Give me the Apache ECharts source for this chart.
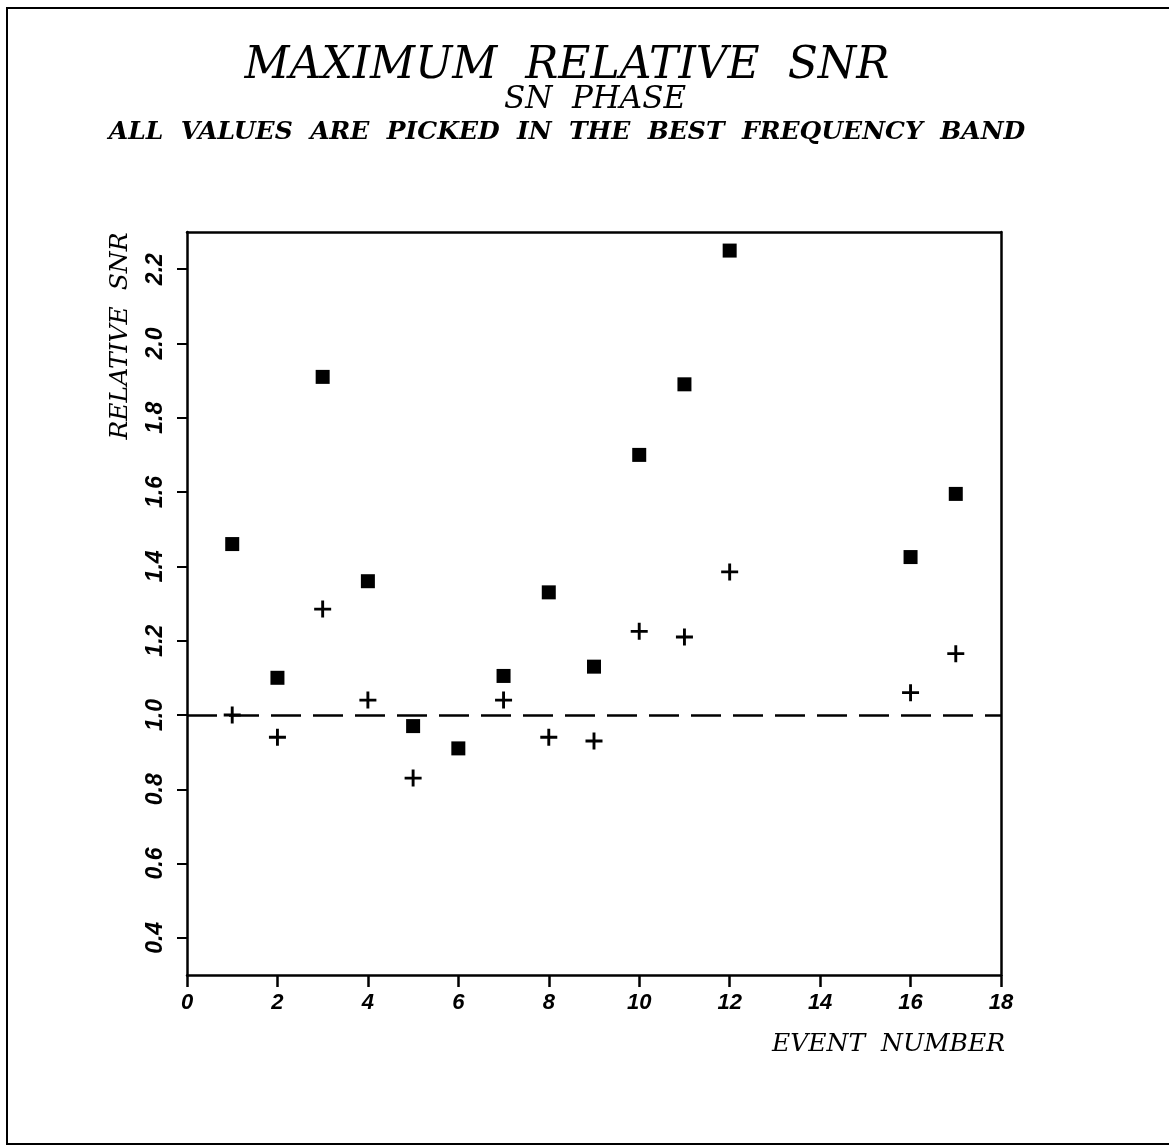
<!DOCTYPE html>
<html>
<head>
<meta charset="utf-8">
<script src="https://cdn.jsdelivr.net/npm/echarts@6/dist/echarts.min.js"></script>
<style>
  html, body { margin: 0; padding: 0; background: #fff; }
  #chart { width: 1169px; height: 1146px; }
</style>
</head>
<body>
<div id="chart"></div>
<script>
  // event numbers and relative SNR values
  var squareEvents = [1, 2, 3, 4, 5, 6, 7, 8, 9, 10, 11, 12, 16, 17];
  var squareSnr = [1.46, 1.10, 1.91, 1.36, 0.97, 0.91, 1.105, 1.33, 1.13, 1.70, 1.89, 2.25, 1.425, 1.595];
  var plusEvents = [1, 2, 3, 4, 5, 7, 8, 9, 10, 11, 12, 16, 17];
  var plusSnr = [1.00, 0.94, 1.285, 1.04, 0.83, 1.04, 0.94, 0.93, 1.225, 1.21, 1.385, 1.06, 1.165];
  var yTicks = [0.4, 0.6, 0.8, 1.0, 1.2, 1.4, 1.6, 1.8, 2.0, 2.2];
  var refLevel = 1.0;

  var serif = '"DejaVu Serif", serif';
  var sans = '"Liberation Sans", Arial, sans-serif';
  var plusPath = 'path://M-1,-0.17L1,-0.17L1,0.17L-1,0.17Z M-0.17,-1L0.17,-1L0.17,1L-0.17,1Z';

  function pairs(xs, ys) {
    return xs.map(function (x, i) { return [x, ys[i]]; });
  }

  var off = { show: false };
  var chart = echarts.init(document.getElementById('chart'));
  chart.setOption({
    animation: false,
    backgroundColor: '#fff',
    title: [
      { text: 'MAXIMUM  RELATIVE  SNR', left: 562, top: 40, textAlign: 'center',
        textStyle: { fontFamily: serif, fontStyle: 'italic', fontWeight: 'normal', fontSize: 44, color: '#000' } },
      { text: 'SN  PHASE', left: 590, top: 79, textAlign: 'center',
        textStyle: { fontFamily: serif, fontStyle: 'italic', fontWeight: 'normal', fontSize: 31, color: '#000' } },
      { text: 'ALL  VALUES  ARE  PICKED  IN  THE  BEST  FREQUENCY  BAND', left: 562, top: 115, textAlign: 'center',
        textStyle: { fontFamily: serif, fontStyle: 'italic', fontWeight: 'bold', fontSize: 25, color: '#000' } }
    ],
    graphic: [
      { type: 'rect', shape: { x: 7, y: 8, width: 1190, height: 1136 },
        style: { fill: 'none', stroke: '#000', lineWidth: 2 }, silent: true },
      { type: 'text', x: 120, y: 336, rotation: Math.PI / 2,
        style: { text: 'RELATIVE  SNR', fontFamily: serif, fontStyle: 'italic', fontSize: 25,
          fill: '#000', align: 'center', verticalAlign: 'middle' } },
      { type: 'text', x: 1005, y: 1044,
        style: { text: 'EVENT  NUMBER', fontFamily: serif, fontStyle: 'italic', fontSize: 25,
          fill: '#000', align: 'right', verticalAlign: 'middle' } }
    ],
    grid: { left: 187, right: 168, top: 232, bottom: 171 },
    xAxis: [
      {
        type: 'value', position: 'bottom', min: 0, max: 18, interval: 2,
        axisLine: { show: true, onZero: false, lineStyle: { color: '#000', width: 2.5 } },
        axisTick: { show: true, length: 12, lineStyle: { color: '#000', width: 2.5 } },
        axisLabel: { margin: 17, fontFamily: sans, fontStyle: 'italic', fontWeight: 'bold', fontSize: 22, color: '#000' },
        splitLine: off
      },
      {
        type: 'value', position: 'top', min: 0, max: 18,
        axisLine: { show: true, onZero: false, lineStyle: { color: '#000', width: 2.5 } },
        axisTick: off, axisLabel: off, splitLine: off
      },
      {
        // tick-only copy of the bottom axis
        type: 'value', position: 'bottom', offset: 0, min: 0, max: 18, interval: 2,
        axisLine: { show: false, onZero: false },
        axisTick: { show: true, length: 12, lineStyle: { color: '#000', width: 2.5 } },
        axisLabel: off, splitLine: off
      }
    ],
    yAxis: [
      {
        type: 'value', position: 'left', min: 0.3, max: 2.3,
        axisLine: { show: true, onZero: false, lineStyle: { color: '#000', width: 2.5 } },
        axisTick: { show: true, length: 10, customValues: yTicks, lineStyle: { color: '#000', width: 2 } },
        axisLabel: { customValues: yTicks, rotate: 90, margin: 20, fontFamily: sans, fontStyle: 'italic',
          fontWeight: 'bold', fontSize: 23, color: '#000',
          formatter: function (v) { return v.toFixed(1); } },
        splitLine: off
      },
      {
        type: 'value', position: 'right', min: 0.3, max: 2.3,
        axisLine: { show: true, onZero: false, lineStyle: { color: '#000', width: 2.5 } },
        axisTick: off, axisLabel: off, splitLine: off
      },
      {
        // tick-only copy of the left axis
        type: 'value', position: 'left', offset: 0, min: 0.3, max: 2.3,
        axisLine: { show: false, onZero: false },
        axisTick: { show: true, length: 10, customValues: yTicks, lineStyle: { color: '#000', width: 2 } },
        axisLabel: off, splitLine: off
      }
    ],
    series: [
      {
        name: 'max', type: 'scatter', symbol: 'rect', symbolSize: 14,
        itemStyle: { color: '#000', opacity: 1 },
        data: pairs(squareEvents, squareSnr),
        markLine: {
          silent: true, symbol: 'none', label: { show: false },
          lineStyle: { color: '#000', width: 2.5, type: [30, 12], opacity: 1 },
          data: [{ yAxis: refLevel }]
        }
      },
      {
        name: 'plus', type: 'scatter', symbol: plusPath, symbolSize: 17,
        itemStyle: { color: '#000', opacity: 1 },
        data: pairs(plusEvents, plusSnr)
      }
    ]
  });
</script>
</body>
</html>
